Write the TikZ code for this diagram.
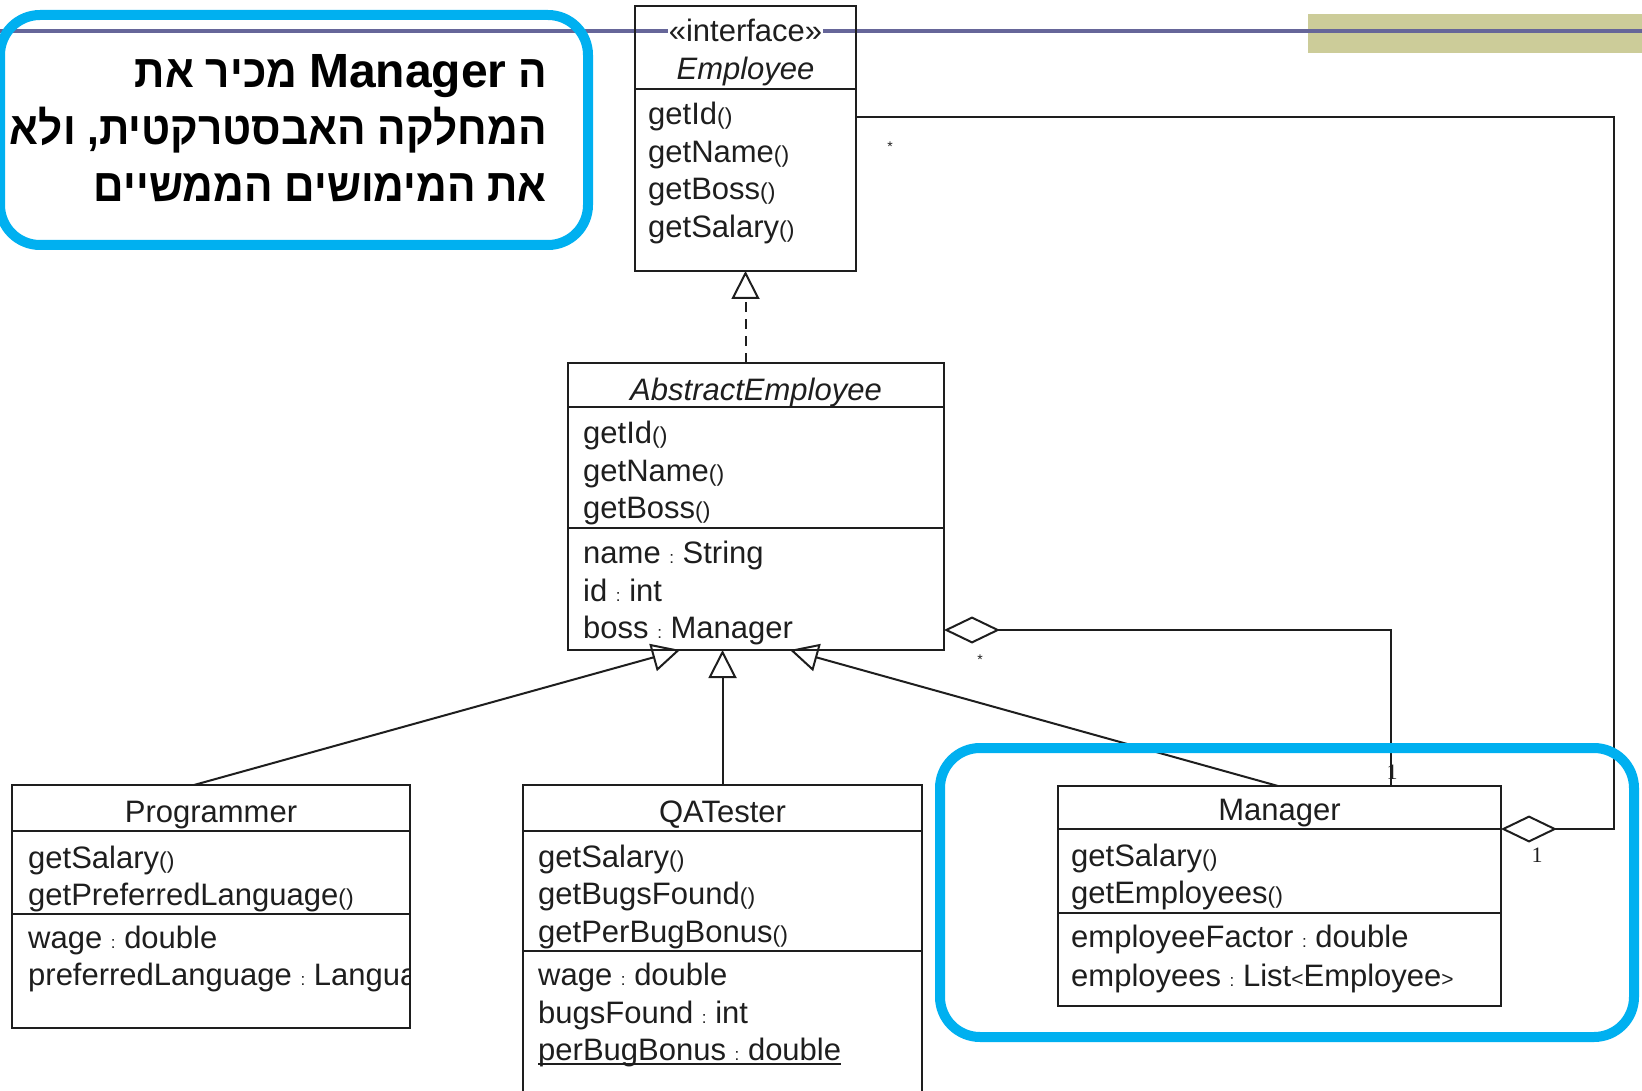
\documentclass[tikz,border=0pt]{standalone}
\usepackage{fontspec}
\setmainfont{Liberation Sans}
\newfontfamily\hebfont[Script=Hebrew, FakeStretch=0.92]{Liberation Sans}
\newfontfamily\numfont{Liberation Serif}
\usetikzlibrary{arrows.meta}
\TeXXeTstate=1

\definecolor{slideline}{RGB}{102,102,153}
\definecolor{slideband}{RGB}{204,204,153}
\definecolor{callout}{RGB}{0,176,240}
\definecolor{ink}{RGB}{30,30,30}

\newcommand\umlfont{\fontsize{31}{37}\selectfont}
\newcommand\noargs{{\fontsize{23}{23}\selectfont()}}
\newcommand\ofType{\ {\fontsize{17}{17}\selectfont:}\ }
\newcommand\angl[1]{{\fontsize{21}{21}\selectfont#1}}
\newcommand\latinword[1]{{\rmfamily\bfseries\fontsize{48}{52}\selectfont#1}}

\tikzset{
  classbox/.style={draw=ink, line width=2.2pt, anchor=north west, inner sep=0pt, outer sep=0pt},
  member/.style={anchor=base west, inner sep=0pt, text=ink, font=\umlfont},
  title/.style={anchor=base, inner sep=0pt, text=ink, font=\umlfont},
  divider/.style={draw=ink, line width=2.2pt},
  link/.style={draw=ink, line width=2pt},
  inherit/.style={link, -{Triangle[open, length=28pt, width=28pt]}},
  realize/.style={inherit, dash pattern=on 10pt off 7pt},
  aggregate/.style={link, -{Diamond[open, length=56pt, width=27pt]}},
  mult/.style={inner sep=0pt, text=ink, font=\numfont\fontsize{22}{22}\selectfont},
  star/.style={inner sep=0pt, text=ink, font=\fontsize{14}{14}\selectfont},
  callbox/.style={draw=callout, line width=10pt, rounded corners=40pt},
  hebline/.style={anchor=base east, inner sep=0pt, font=\hebfont\bfseries\fontsize{46}{52}\selectfont},
}

\begin{document}
\begin{tikzpicture}[x=1pt,y=-1pt]
\useasboundingbox (0,0) rectangle (1642,1091);
\clip (0,0) rectangle (1642,1091);

% slide header band and rule
\fill[slideband] (1308,14) rectangle (1642,53);
\draw[slideline, line width=4pt] (0,31) -- (1642,31);

% ---------- Employee (interface) ----------
\node[classbox, minimum width=221pt, minimum height=265pt] (emp) at (635,6) {};
\draw[divider] ([yshift=-83pt]emp.north west) -- ([yshift=-83pt]emp.north east);
\node[title, fill=white, inner sep=1pt] (empStereo) at (745.5,42) {«interface»};
\node[title] (empName) at (745.5,80) {\itshape Employee};
\node[member] (emp1) at (648,125) {getId\noargs};
\node[member] (emp2) at (648,162.5) {getName\noargs};
\node[member] (emp3) at (648,200) {getBoss\noargs};
\node[member] (emp4) at (648,237.5) {getSalary\noargs};

% ---------- AbstractEmployee ----------
\node[classbox, minimum width=376pt, minimum height=287pt] (abs) at (568,363) {};
\draw[divider] ([yshift=-44pt]abs.north west) -- ([yshift=-44pt]abs.north east);
\draw[divider] ([yshift=-165pt]abs.north west) -- ([yshift=-165pt]abs.north east);
\node[title] (absName) at (756,400) {\itshape AbstractEmployee};
\node[member] (abs1) at (583,443) {getId\noargs};
\node[member] (abs2) at (583,481) {getName\noargs};
\node[member] (abs3) at (583,518) {getBoss\noargs};
\node[member] (abs4) at (583,563) {name\ofType String};
\node[member] (abs5) at (583,601) {id\ofType int};
\node[member] (abs6) at (583,638) {boss\ofType Manager};

% ---------- Programmer ----------
\node[classbox, minimum width=398pt, minimum height=243pt] (prog) at (12,785) {};
\draw[divider] ([yshift=-46pt]prog.north west) -- ([yshift=-46pt]prog.north east);
\draw[divider] ([yshift=-129pt]prog.north west) -- ([yshift=-129pt]prog.north east);
\node[title] (progName) at (211,822) {Programmer};
\node[member] (prog1) at (28,868) {getSalary\noargs};
\node[member] (prog2) at (28,905) {getPreferredLanguage\noargs};
\node[member] (prog3) at (28,948) {wage\ofType double};
\begin{scope}
  \clip (13,915) rectangle (409,1027);
  \node[member] (prog4) at (28,985) {preferredLanguage\ofType Language};
\end{scope}

% ---------- QATester ----------
\node[classbox, minimum width=399pt, minimum height=330pt] (qa) at (523,785) {};
\draw[divider] ([yshift=-46pt]qa.north west) -- ([yshift=-46pt]qa.north east);
\draw[divider] ([yshift=-166pt]qa.north west) -- ([yshift=-166pt]qa.north east);
\node[title] (qaName) at (722.5,822) {QATester};
\node[member] (qa1) at (538,867) {getSalary\noargs};
\node[member] (qa2) at (538,904) {getBugsFound\noargs};
\node[member] (qa3) at (538,942) {getPerBugBonus\noargs};
\node[member] (qa4) at (538,985) {wage\ofType double};
\node[member] (qa5) at (538,1023) {bugsFound\ofType int};
\node[member] (qa6) at (538,1060) {perBugBonus\ofType double};
\draw[ink, line width=1.6pt] ([yshift=-4pt]qa6.base west) -- ([yshift=-4pt]qa6.base east);

% ---------- Manager ----------
\node[classbox, minimum width=443pt, minimum height=220pt] (mgr) at (1058,786) {};
\draw[divider] ([yshift=-43pt]mgr.north west) -- ([yshift=-43pt]mgr.north east);
\draw[divider] ([yshift=-127pt]mgr.north west) -- ([yshift=-127pt]mgr.north east);
\node[title] (mgrName) at (1279.5,820) {Manager};
\node[member] (mgr1) at (1071,866) {getSalary\noargs};
\node[member] (mgr2) at (1071,903) {getEmployees\noargs};
\node[member] (mgr3) at (1071,947) {employeeFactor\ofType double};
\node[member] (mgr4) at (1071,986) {employees\ofType List\angl{<}Employee\angl{>}};

% ---------- relations ----------
\draw[realize] (abs.north -| emp.south) -- (emp.south);
\draw[inherit] ([xshift=182pt]prog.north west) -- ([xshift=112pt]abs.south west);
\draw[inherit] (qa.north) -- (qa.north |- abs.south);
\draw[inherit] ([xshift=220pt]mgr.north west) -- ([xshift=222pt]abs.south west);
\draw[aggregate] ([xshift=333pt]mgr.north west) |- ([yshift=-267pt]abs.north east);
\draw[aggregate] ([yshift=-111pt]emp.north east) -- ++(758,0) |- ([yshift=-43pt]mgr.north east);

% multiplicities
\node[star] (multEmp) at (890,147) {*};
\node[star] (multAbs) at (980,660) {*};
\node[mult] (multBoss) at (1392,772) {1};
\node[mult] (multMgr) at (1537,855) {1};

% ---------- callouts ----------
\draw[callbox] (0,15) rectangle (588,245);
\draw[callbox] (940,748) rectangle (1634,1037);
\node[hebline] (heb1) at (547,88) {\beginR ה \beginL\latinword{Manager}\endL{} מכיר את\endR};
\node[hebline] (heb2) at (547,145) {\beginR המחלקה האבסטרקטית, ולא\endR};
\node[hebline] (heb3) at (547,202) {\beginR את המימושים הממשיים\endR};
\end{tikzpicture}
\end{document}
